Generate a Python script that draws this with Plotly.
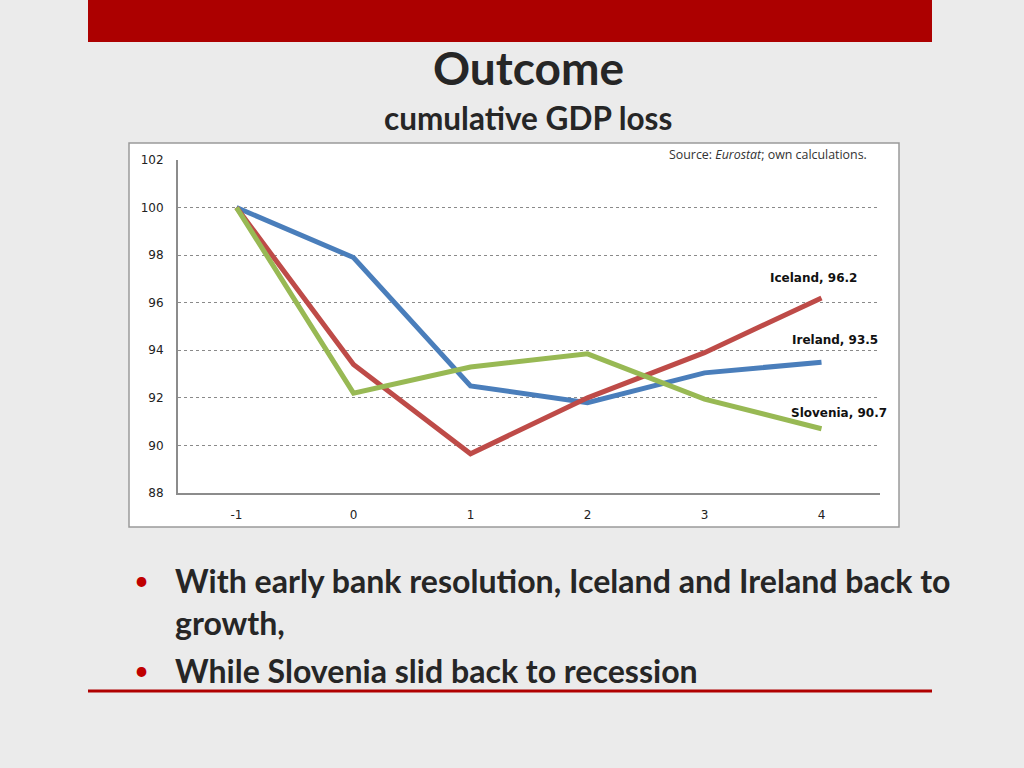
import plotly.graph_objects as go

years = ["-1", "0", "1", "2", "3", "4"]
ireland = [100, 97.9, 92.5, 91.8, 93.05, 93.5]
iceland = [100, 93.4, 89.65, 92.0, 93.9, 96.2]
slovenia = [100, 92.2, 93.3, 93.85, 91.95, 90.7]
y_ticks = [88, 90, 92, 94, 96, 98, 100, 102]

W, H = 1024, 768
def px(x): return x / W
def py(y): return 1 - y / H

fig = go.Figure()
fig.add_trace(go.Scatter(x=years, y=ireland, mode="lines", name="Ireland",
                         line=dict(color="#4a7ebb", width=5)))
fig.add_trace(go.Scatter(x=years, y=iceland, mode="lines", name="Iceland",
                         line=dict(color="#be4b48", width=5)))
fig.add_trace(go.Scatter(x=years, y=slovenia, mode="lines", name="Slovenia",
                         line=dict(color="#98b954", width=5)))

shapes = [
    dict(type="rect", xref="paper", yref="paper", x0=px(88), x1=px(932), y0=py(42), y1=py(0),
         fillcolor="#ac0000", line=dict(width=0), layer="below"),
    dict(type="rect", xref="paper", yref="paper", x0=px(129), x1=px(899), y0=py(527), y1=py(143),
         fillcolor="white", line=dict(color="#9a9a9a", width=1.5), layer="below"),
    dict(type="line", xref="paper", yref="paper", x0=px(88), x1=px(932), y0=py(691), y1=py(691),
         line=dict(color="#b00000", width=3)),
]

def ann(text, x, y, size, family="Lato", xanchor="center", color="#262626"):
    return dict(text=text, xref="paper", yref="paper", x=px(x), y=py(y),
                xanchor=xanchor, yanchor="middle", showarrow=False,
                font=dict(family=family, size=size, color=color))

annotations = [
    ann("<b>Outcome</b>", 528, 68, 46),
    ann("<b>cumulative GDP loss</b>", 528, 118, 31.5),
    ann("Source: <i>Eurostat</i>; own calculations.", 869, 155, 12.4,
        family="Open Sans", xanchor="right", color="#333333"),
]

last = len(years) - 1  # category index of the last year
label_font = dict(family="DejaVu Sans", size=12, color="#111111")
annotations += [
    dict(text="<b>Iceland, 96.2</b>", x=last, y=iceland[-1], xref="x", yref="y",
         xanchor="center", yanchor="middle",
         xshift=-8, yshift=20, showarrow=False, font=label_font),
    dict(text="<b>Ireland, 93.5</b>", x=last, y=ireland[-1], xref="x", yref="y",
         xanchor="center", yanchor="middle",
         xshift=13, yshift=22, showarrow=False, font=label_font),
    dict(text="<b>Slovenia, 90.7</b>", x=last, y=slovenia[-1], xref="x", yref="y",
         xanchor="center", yanchor="middle",
         xshift=17, yshift=16, showarrow=False, font=label_font),
]

lines = [
    ("<b>With early bank resolution, Iceland and Ireland back to</b>", 580, True),
    ("<b>growth,</b>", 622, False),
    ("<b>While Slovenia slid back to recession</b>", 670, True),
]
for txt, yy, bullet in lines:
    annotations.append(ann(txt, 173, yy, 32.1, xanchor="left"))
    if bullet:
        annotations.append(ann("•", 141, yy, 26, color="#c00000"))

fig.update_layout(
    width=W, height=H, autosize=False,
    margin=dict(l=0, r=0, t=0, b=0, pad=0),
    paper_bgcolor="#ebebeb",
    plot_bgcolor="rgba(0,0,0,0)",
    showlegend=False,
    shapes=shapes,
    annotations=annotations,
    xaxis=dict(domain=[px(178), px(880)], type="category", range=[-0.5, 5.5],
               showgrid=False, automargin=False,
               showline=True, linecolor="#8c8c8c", linewidth=2,
               ticks="outside", ticklen=10, tickcolor="rgba(0,0,0,0)",
               tickfont=dict(family="DejaVu Sans", size=12, color="#222222"), fixedrange=True),
    yaxis=dict(domain=[py(493), py(160)], range=[88, 102], tickvals=y_ticks,
               showgrid=True, gridcolor="#8a8a8a", griddash="dot", gridwidth=1,
               automargin=False,
               showline=True, linecolor="#8c8c8c", linewidth=2, zeroline=False,
               ticks="outside", ticklen=10, tickcolor="rgba(0,0,0,0)",
               tickfont=dict(family="DejaVu Sans", size=12, color="#222222"), fixedrange=True),
)

fig.write_html("out.html", config={"displayModeBar": False},
               post_script="document.body.style.margin='0';document.body.style.overflow='hidden';")
